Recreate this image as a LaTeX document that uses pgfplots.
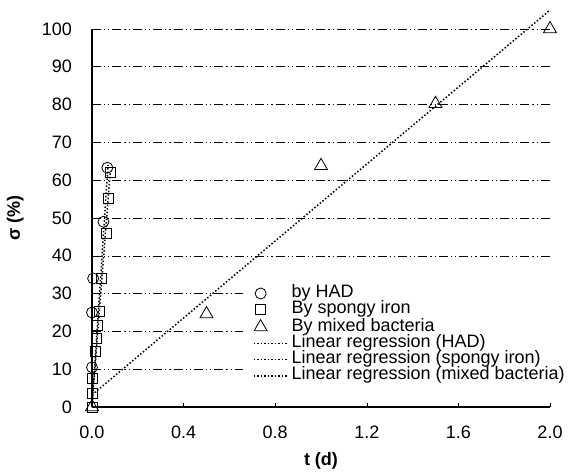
\documentclass[border=0pt]{standalone}
\usepackage{fontspec}
\setmainfont{Liberation Sans}
\usepackage{pgfplots}
\pgfplotsset{compat=1.18}
\begin{document}
\fontsize{18}{21}\selectfont
\begin{tikzpicture}
\begin{axis}[
  scale only axis,
  width=458pt, height=378pt,
  xmin=0, xmax=2.0, ymin=0, ymax=100,
  axis x line=bottom, axis y line=left,
  axis line style={-, line width=1.4pt},
  clip=false,
  xtick={0,0.4,...,2.01},
  ytick={0,10,...,100},
  tick align=inside,
  tick style={black, line width=0.6pt},
  major tick length=4pt,
  /pgf/number format/assume math mode=true,
  x tick label style={/pgf/number format/fixed, /pgf/number format/fixed zerofill, /pgf/number format/precision=1, yshift=-13pt},
  y tick label style={xshift=-14pt},
  ymajorgrids,
  grid style={black, line width=0.6pt, dash pattern=on 9pt off 3pt on 1.2pt off 3pt on 1.2pt off 3pt},
  xlabel={\textbf{t (d)}},
  ylabel={\textbf{σ (\%)}},
  xlabel style={yshift=-1pt},
  ylabel style={yshift=6pt},
  legend cell align=left,
  legend style={draw=none, fill=white, inner xsep=10pt, inner ysep=3pt, at={(0.329,0.326)}, anchor=north west,
    row sep=3.3pt, nodes={inner sep=0pt, text height=10.5pt, text depth=2.5pt}, font=\fontsize{18}{21}\selectfont},
  markleg/.style={legend image code/.code={
    \path[##1] plot coordinates {(7pt,0pt)};
    \path[draw=none,fill=none] (0pt,0pt) -- (38pt,0pt);}},
  lineleg/.style={legend image code/.code={
    \draw[##1] (0pt,0pt) -- (34pt,0pt);
    \path[draw=none,fill=none] (0pt,0pt) -- (38pt,0pt);}},
]
\addplot[only marks, mark=o, mark size=5.5pt, mark options={line width=0.8pt}, markleg] coordinates {
 (0.0,10.5) (0.0,25) (0.005,34) (0.05,49) (0.067,63.3)};
\addlegendentry{by HAD}
\addplot[only marks, mark=square, mark size=5pt, mark options={line width=0.8pt}, markleg] coordinates {
 (0,0) (0.0,3.7) (0.002,7.6) (0.013,14.7) (0.018,18.2) (0.023,21.7) (0.031,25.3) (0.042,34) (0.064,46) (0.072,55.3) (0.079,62)};
\addlegendentry{By spongy iron}
\addplot[only marks, mark=triangle, mark size=7.5pt, mark options={line width=0.8pt}, markleg] coordinates {
 (0,0) (0.5,24.6) (1.0,63.8) (1.5,80.2) (2.0,100)};
\addlegendentry{By mixed bacteria}
\addplot[black, line width=1.5pt, dash pattern=on 1.5pt off 2pt, lineleg] coordinates {(0,0) (0.07,64)};
\addlegendentry{Linear regression (HAD)}
\addplot[black, line width=1.5pt, dash pattern=on 1.5pt off 2pt, lineleg] coordinates {(0,0.5) (0.08,62.5)};
\addlegendentry{Linear regression (spongy iron)}
\addplot[black, line width=1.5pt, dash pattern=on 1.5pt off 2pt, lineleg] coordinates {(0,3.2) (2.0,105)};
\addlegendentry{Linear regression (mixed bacteria)}
\end{axis}
\pgfresetboundingbox
\path (current axis.south west) ++(-92pt,-67pt) rectangle ++(569pt,474pt);
\end{tikzpicture}
\end{document}
